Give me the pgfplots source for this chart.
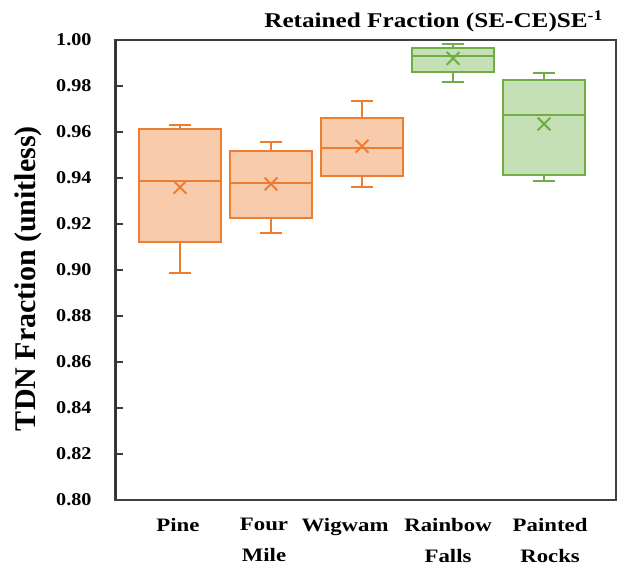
\documentclass[border=0pt]{standalone}
\usepackage{fontspec}
\setmainfont{Liberation Serif}
\newfontfamily\wfont[FakeStretch=1.2]{Liberation Serif}
\newfontfamily\tfont[FakeStretch=1.12]{Liberation Serif}
\usepackage{pgfplots}
\pgfplotsset{compat=1.18}
\usepgfplotslibrary{statistics}
\definecolor{orE}{HTML}{ED7D31}
\definecolor{orF}{HTML}{F8CBAD}
\definecolor{grE}{HTML}{70AD47}
\definecolor{grF}{HTML}{C5E0B4}
\begin{document}
\begin{tikzpicture}
\useasboundingbox (-115pt,-68pt) rectangle (508pt,500pt);
\begin{axis}[
  scale only axis,
  width=501pt, height=460pt,
  xmin=-0.714, xmax=4.79,
  ymin=0.80, ymax=1.00,
  ytick={0.80,0.82,...,1.001},
  /pgf/number format/fixed, /pgf/number format/fixed zerofill, /pgf/number format/precision=2, /pgf/number format/assume math mode=true,
  ytick pos=left, tick align=inside,
  major tick length=8pt,
  ytick style={line width=1.2pt, black!75},
  xtick={-0.022,0.923,1.813,2.945,4.066},
  xticklabels={Pine,{Four\\Mile},Wigwam,{Rainbow\\Falls},{Painted\\Rocks}},
  xtick style={draw=none},
  x tick label style={align=center, font=\wfont\bfseries\fontsize{19}{31}\selectfont, yshift=-15pt},
  y tick label style={font=\tfont\bfseries\fontsize{18}{18}\selectfont, xshift=-20pt},
  axis line style={black!75, line width=1.2pt},
  ylabel={TDN Fraction (unitless)},
  ylabel style={font=\bfseries\fontsize{30}{30}\selectfont, at={(axis description cs:-0.1737,0.4815)}, anchor=center},
  title={Retained Fraction (SE-CE)SE\textsuperscript{-1}},
  title style={at={(0.636,1)}, anchor=base, font=\wfont\bfseries\fontsize{21}{21}\selectfont, yshift=6pt},
  boxplot/draw direction=y,
  boxplot/box extend=0.9,
  boxplot/whisker extend=0.25,
  boxplot/every average/.style={/tikz/mark=x, /tikz/mark size=9pt, /tikz/mark options={line width=1.8pt}},
]
\addplot[draw=orE, fill=orF, line width=2pt, boxplot prepared={draw position=0, median=0.9388, upper quartile=0.9613, lower quartile=0.9122, upper whisker=0.9630, lower whisker=0.8987, average=0.9360}] coordinates {};
\addplot[draw=orE, fill=orF, line width=2pt, boxplot prepared={draw position=1, median=0.9378, upper quartile=0.9516, lower quartile=0.9227, upper whisker=0.9555, lower whisker=0.9161, average=0.9374}] coordinates {};
\addplot[draw=orE, fill=orF, line width=2pt, boxplot prepared={draw position=2, median=0.9529, upper quartile=0.9660, lower quartile=0.9407, upper whisker=0.9736, lower whisker=0.9360, average=0.9538}] coordinates {};
\addplot[draw=grE, fill=grF, line width=2pt, boxplot prepared={draw position=3, median=0.9932, upper quartile=0.9964, lower quartile=0.9860, upper whisker=0.9981, lower whisker=0.9816, average=0.9920}] coordinates {};
\addplot[draw=grE, fill=grF, line width=2pt, boxplot prepared={draw position=4, median=0.9675, upper quartile=0.9826, lower quartile=0.9414, upper whisker=0.9855, lower whisker=0.9388, average=0.9635}] coordinates {};
\draw[line width=3.5pt, black!80] (rel axis cs:0,0) -- (rel axis cs:0,1);
\end{axis}
\end{tikzpicture}
\end{document}
